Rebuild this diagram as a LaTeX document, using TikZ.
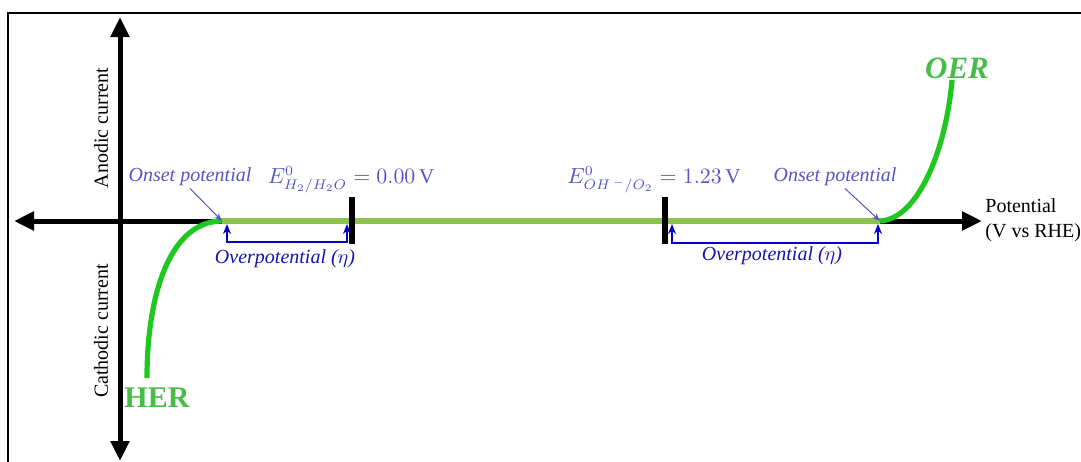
\documentclass[tikz,border=0pt]{standalone}
\usepackage{amsmath}
\usepackage{fontspec}
\setmainfont{Liberation Serif}
\usetikzlibrary{arrows.meta, positioning}
\definecolor{curvegreen}{RGB}{30,200,30}
\definecolor{linegreen}{RGB}{140,195,75}
\definecolor{labelgreen}{RGB}{70,190,70}
\definecolor{onsetblue}{RGB}{85,85,195}
\definecolor{overblue}{RGB}{20,20,175}
\definecolor{brkblue}{RGB}{0,0,205}

\begin{document}
\begin{tikzpicture}[x=0.5pt, y=-0.5pt, font=\fontsize{10}{12.5}\selectfont,
                    axis/.style={line width=2.5pt, -{Triangle[length=10pt, width=9pt]}},
                    axlbl/.style={inner sep=1pt},
                    curve/.style={curvegreen, line width=2.6pt},
                    onset/.style={onsetblue, font=\fontsize{10}{12}\selectfont\itshape, inner sep=1pt},
                    eqlbl/.style={onsetblue, font=\fontsize{10.5}{12}\selectfont, inner sep=0pt},
                    pointer/.style={onsetblue, line width=0.5pt, -{Stealth[length=4pt, width=3pt]}},
                    brk/.style={brkblue, line width=1.4pt, {Stealth[length=5pt, width=4pt]}-{Stealth[length=5pt, width=4pt]}},
                    overlbl/.style={overblue, font=\fontsize{10}{12}\selectfont\itshape, inner sep=1pt},
                    tick/.style={line width=2.6pt}]
  \useasboundingbox (0,0) rectangle (1081,461);
  % Frame
  \draw[line width=1pt] (8,470) -- (8,13) -- (1090,13);

  % Axes
  \coordinate (xl) at (14,221);
  \coordinate (xr) at (982,221);
  \coordinate (yt) at (120,17);
  \coordinate (yb) at (120,461);
  \coordinate (origin) at (120,221);
  \draw[axis] (origin) -- (xl);
  \draw[axis] (origin) -- (xr);
  \draw[axis] (origin) -- (yt);
  \draw[axis] (origin) -- (yb);
  \node[axlbl, rotate=90] (anodic) at (101,128) {Anodic current};
  \node[axlbl, rotate=90] (cathodic) at (101,331) {Cathodic current};
  \node[axlbl, anchor=west, align=left] (potlbl) at (983,220) {Potential\\(V vs RHE)};

  % Onset points and equilibrium ticks
  \coordinate (herOn) at (222,221);
  \coordinate (oerOn) at (880,221);
  \draw[linegreen, line width=2.8pt] (herOn) -- (oerOn);
  \coordinate (hTop) at (352,197);
  \coordinate (hBot) at (352,244);
  \coordinate (oTop) at (665,197);
  \coordinate (oBot) at (665,244);
  \draw[tick] (hTop) -- (hBot);
  \draw[tick] (oTop) -- (oBot);

  % HER and OER curves
  \coordinate (herEnd) at (147,378);
  \coordinate (oerEnd) at (952,80);
  \draw[curve] (herEnd) .. controls (147,290) and (172,221) .. (herOn);
  \draw[curve] (oerOn) .. controls (918,219) and (946,150) .. (oerEnd);
  \node[labelgreen, font=\fontsize{15}{18}\selectfont\bfseries] (her) at (157,398) {HER};
  \node[labelgreen, font=\fontsize{15.5}{18}\selectfont\bfseries\itshape] (oer) at (957,68) {OER};

  % Labels above the axis
  \node[onset] (onsetL) at (190,177) {Onset potential};
  \node[onset] (onsetR) at (835,177) {Onset potential};
  \node[eqlbl] (eqH) at (351,180) {$E^{0}_{H_2/H_2O} = 0.00\,\mathrm{V}$};
  \node[eqlbl] (eqO) at (654,180) {$E^{0}_{OH^{\,-}/O_2} = 1.23\,\mathrm{V}$};
  \draw[pointer] (onsetL.south) -- (herOn);
  \draw[pointer] (onsetR.south) ++(10,0) -- (oerOn);

  % Overpotential brackets
  \coordinate (lA) at (227,224);
  \coordinate (lB) at (347,224);
  \coordinate (rA) at (672,224);
  \coordinate (rB) at (878,224);
  \draw[brk] (lA) -- ++(0,18) -| (lB);
  \draw[brk] (rA) -- ++(0,19) -| (rB);
  \node[overlbl] (overL) at (285,259) {Overpotential ($\eta$)};
  \node[overlbl] (overR) at (772,256) {Overpotential ($\eta$)};
\end{tikzpicture}
\end{document}
